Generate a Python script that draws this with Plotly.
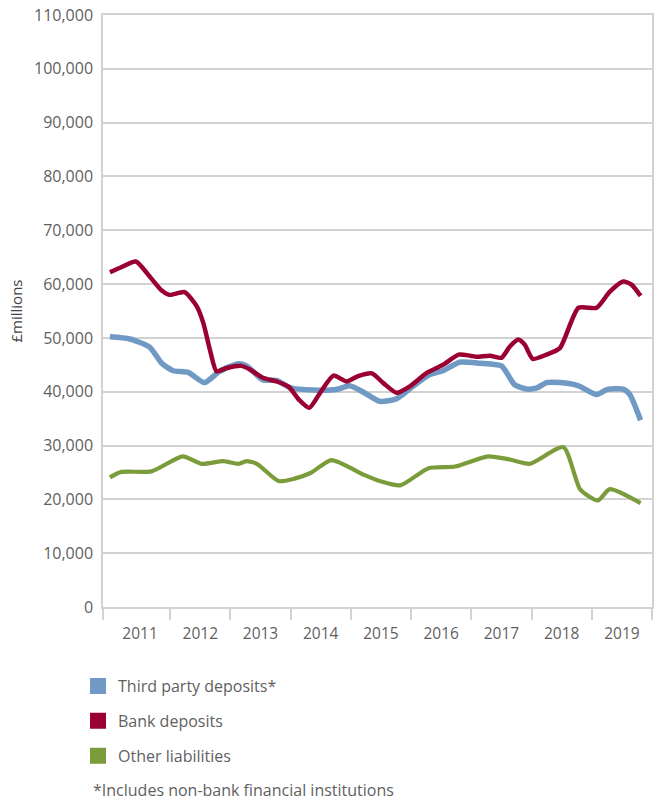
import plotly.graph_objects as go

# decimal-year positions and values (£ millions)
third_party_x = [2011.00, 2011.33, 2011.66, 2011.86, 2012.05, 2012.30, 2012.57, 2012.82,
                 2013.13, 2013.27, 2013.54, 2013.77, 2014.00, 2014.37, 2014.76, 2014.98,
                 2015.21, 2015.48, 2015.76, 2016.03, 2016.31, 2016.53, 2016.81, 2017.14,
                 2017.50, 2017.72, 2017.92, 2018.09, 2018.25, 2018.47, 2018.78, 2019.08,
                 2019.25, 2019.52, 2019.63, 2019.81]
third_party = [50200, 49800, 48300, 45300, 43900, 43600, 41700, 43800,
               45200, 44800, 42200, 42100, 40700, 40300, 40400, 41100,
               39900, 38200, 38700, 41000, 43200, 43900, 45500, 45300,
               44800, 41300, 40500, 40700, 41700, 41700, 41100, 39500,
               40400, 40500, 39500, 34700]

bank_x = [2011.00, 2011.16, 2011.43, 2011.66, 2011.86, 2011.99, 2012.24, 2012.44,
          2012.55, 2012.66, 2012.77, 2012.94, 2013.18, 2013.33, 2013.54, 2013.77,
          2013.97, 2014.14, 2014.31, 2014.49, 2014.71, 2014.93, 2015.12, 2015.35,
          2015.54, 2015.76, 2015.98, 2016.26, 2016.53, 2016.79, 2016.98, 2017.09,
          2017.31, 2017.50, 2017.64, 2017.78, 2017.89, 2018.02, 2018.25, 2018.47,
          2018.78, 2019.08, 2019.30, 2019.52, 2019.66, 2019.81]
bank = [62200, 63000, 64200, 61400, 58800, 58000, 58500, 55900,
        52800, 47800, 43800, 44400, 44800, 44100, 42600, 41900,
        40900, 38500, 37000, 39800, 43000, 41900, 42900, 43400,
        41600, 39800, 41000, 43500, 45000, 46900, 46700, 46500,
        46700, 46300, 48400, 49700, 48700, 46100, 46900, 48100,
        55600, 55600, 58600, 60500, 59900, 57800]

other_x = [2011.00, 2011.19, 2011.69, 2012.21, 2012.52, 2012.88, 2013.13, 2013.27,
           2013.44, 2013.80, 2014.05, 2014.33, 2014.68, 2015.21, 2015.48, 2015.82,
           2016.29, 2016.73, 2017.28, 2017.64, 2017.97, 2018.53, 2018.81, 2019.10,
           2019.30, 2019.81]
other = [24100, 25100, 25200, 28000, 26600, 27100, 26600, 27100,
         26600, 23400, 23800, 24900, 27300, 24600, 23400, 22600,
         25800, 26100, 28000, 27400, 26600, 29700, 21800, 19800,
         21900, 19300]

years = [2011, 2012, 2013, 2014, 2015, 2016, 2017, 2018, 2019]

series = [
    ("Third party deposits*", third_party_x, third_party, "#7099c4", 5.5),
    ("Bank deposits", bank_x, bank, "#9a0032", 4.5),
    ("Other liabilities", other_x, other, "#7b9c3a", 4.2),
]

x_start = 2010.885
x_end = 2020.0

fig = go.Figure()

for name, xs, ys, color, width in series:
    fig.add_trace(go.Scatter(
        x=xs, y=ys, mode="lines", name=name,
        line=dict(color=color, width=width, shape="spline", smoothing=0.6),
        showlegend=False, hoverinfo="skip"
    ))

# square legend swatches
for i, (name, xs, ys, color, width) in enumerate(series):
    fig.add_trace(go.Scatter(
        x=[None], y=[None], mode="markers", name=name,
        marker=dict(symbol="square", size=16, color=color),
        legendgroup=str(i)
    ))

grid = "#d2d2d2"
text_col = "#5f5f5f"

fig.update_layout(
    width=658,
    height=805,
    margin=dict(l=103, r=6, t=15, b=198),
    paper_bgcolor="white",
    plot_bgcolor="white",
    font=dict(family="Open Sans", size=16, color=text_col),
    xaxis=dict(
        range=[x_start, x_end],
        tickvals=[y + 0.5 for y in years],
        ticktext=[str(y) for y in years],
        ticks="",
        showgrid=False,
        zeroline=False,
        showline=True,
        linecolor=grid,
        linewidth=1.5,
        mirror=True,
        automargin=False,
        ticklabelstandoff=12,
        tickfont=dict(size=15.5, color=text_col),
        minor=dict(
            tickvals=[x_start] + years[1:] + [x_end],
            ticks="outside",
            ticklen=11,
            tickcolor=grid,
            tickwidth=1.5,
            showgrid=False
        ),
        fixedrange=True
    ),
    yaxis=dict(
        range=[0, 110000],
        tickvals=list(range(0, 110001, 10000)),
        tickformat=",d",
        showgrid=True,
        gridcolor=grid,
        gridwidth=1.5,
        zeroline=False,
        showline=True,
        linecolor=grid,
        linewidth=1.5,
        mirror=True,
        ticks="",
        automargin=False,
        ticklabelstandoff=5,
        tickfont=dict(size=16, color=text_col),
        title=dict(text="£millions", font=dict(size=15, color="#444444"), standoff=8),
        fixedrange=True
    ),
    legend=dict(
        x=-0.0455,
        y=-0.105,
        xanchor="left",
        yanchor="top",
        orientation="v",
        traceorder="grouped",
        tracegroupgap=11,
        font=dict(size=16, color=text_col),
        itemsizing="trace",
        bgcolor="rgba(0,0,0,0)"
    )
)

fig.add_annotation(
    text="*Includes non-bank financial institutions",
    xref="paper", yref="paper",
    x=-0.021, y=-0.309,
    xanchor="left", yanchor="middle",
    showarrow=False,
    font=dict(size=16, color=text_col)
)

# page body has a default 8px margin; remove it so the figure fills the window
fig.write_html(
    "out.html",
    config={"displayModeBar": False},
    post_script="document.body.style.margin = '0';"
)
